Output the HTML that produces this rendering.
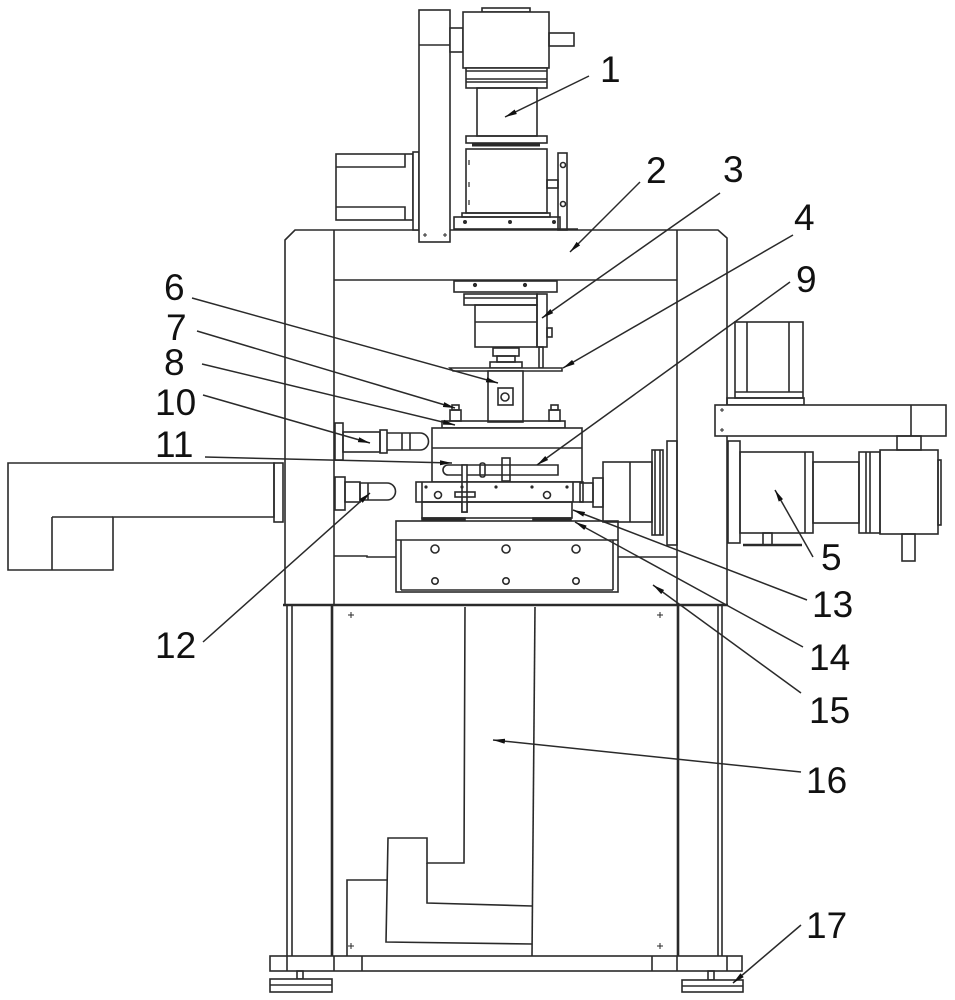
<!DOCTYPE html>
<html><head><meta charset="utf-8"><style>
html,body{margin:0;padding:0;background:#fff;}
svg{display:block;}
text{font-family:"Liberation Sans",sans-serif;font-size:37px;fill:#111;}
</style></head><body>
<svg width="955" height="1000" viewBox="0 0 955 1000" xmlns="http://www.w3.org/2000/svg">
<defs>
<marker id="ar" markerWidth="13" markerHeight="6" refX="12" refY="3" orient="auto" markerUnits="userSpaceOnUse">
<path d="M0,0.5 L12,3 L0,5.5 z" fill="#111"/>
</marker>
</defs>
<g fill="none" stroke="#2a2a2a" stroke-width="1.6">
<!-- Base and feet -->
<rect x="270" y="956" width="472" height="15" fill="#fff"/>
<path d="M287,956V971M334,956V971M362,956V971M652,956V971M677,956V971M727,956V971"/>
<rect x="297" y="971" width="6" height="8"/>
<rect x="270" y="979" width="62" height="13" fill="#fff"/>
<path d="M270,985H332"/>
<rect x="708" y="971" width="6" height="9"/>
<rect x="682" y="980" width="61" height="12" fill="#fff"/>
<path d="M682,986H743"/>
<!-- Legs -->
<path d="M287,605V956M292,605V956M718,605V956M722,605V956"/>
<path d="M332,605V956M678,605V956" stroke-width="2.6"/>
<!-- Cabinet panel 16 -->
<path d="M465,607L464,863H427V838H388L386,942L532,944"/>
<path d="M427,863V903L532,906"/>
<path d="M535,607L532,956"/>
<path d="M347,956V880H387"/>
<g stroke-width="1">
<path d="M348,615h6M351,612v6M657,615h6M660,612v6M348,946h6M351,943v6M657,946h6M660,943v6"/>
</g>
<!-- Upper frame -->
<path d="M285,605V240L295,230H718L727,238V605"/>
<path d="M334,230V605M677,230V605"/>
<path d="M334,280H677"/>
<path d="M283,605H728" stroke-width="2.6"/>
<path d="M334,556H367V557H396M618,557H677"/>
<!-- Top assembly -->
<rect x="336" y="154" width="77" height="66" fill="#fff"/>
<path d="M336,167H405V154M336,207H405V220"/>
<rect x="413" y="152" width="6" height="78" fill="#fff"/>
<rect x="419" y="10" width="31" height="232" fill="#fff"/>
<path d="M419,45H450"/>
<rect x="450" y="28" width="13" height="24" fill="#fff"/>
<rect x="482" y="8" width="48" height="4"/>
<rect x="463" y="12" width="86" height="56" fill="#fff"/>
<rect x="549" y="33" width="25" height="13"/>
<rect x="466" y="68" width="81" height="20" fill="#fff"/>
<path d="M466,71H547M466,79H547M466,82H547"/>
<rect x="477" y="88" width="60" height="48"/>
<rect x="466" y="136" width="81" height="7"/>
<path d="M472,145H540" stroke-width="3"/>
<rect x="466" y="149" width="81" height="64"/>
<path d="M469,160v5M469,182v5M469,200v5" stroke-width="1.2"/>
<rect x="462" y="213" width="88" height="4"/>
<rect x="454" y="217" width="106" height="12"/>
<path d="M560,229H578"/>
<rect x="558" y="153" width="9" height="77"/>
<circle cx="563" cy="165" r="2.5"/><circle cx="563" cy="204" r="2.5"/>
<rect x="547" y="180" width="11" height="8"/>
<g stroke-width="1"><path d="M423,235h4M425,233v4M443,235h4M445,233v4"/></g>
<circle cx="465" cy="222" r="1.2" fill="#2a2a2a"/><circle cx="510" cy="222" r="1.2" fill="#2a2a2a"/><circle cx="554" cy="222" r="1.2" fill="#2a2a2a"/>
<!-- Head under beam (3) -->
<rect x="454" y="281" width="103" height="11"/>
<circle cx="475" cy="285" r="1.3" fill="#2a2a2a"/><circle cx="525" cy="285" r="1.3" fill="#2a2a2a"/>
<rect x="464" y="294" width="73" height="11"/>
<path d="M464,298H537"/>
<rect x="475" y="305" width="62" height="42"/>
<path d="M475,322H537"/>
<rect x="537" y="294" width="10" height="53"/>
<rect x="547" y="328" width="5" height="9"/>
<rect x="539" y="347" width="4" height="21"/>
<rect x="493" y="348" width="26" height="8"/>
<rect x="497" y="356" width="18" height="6"/>
<rect x="490" y="362" width="32" height="6"/>
<path d="M450,368H562V371H453z" fill="#fff"/>
<rect x="488" y="371" width="35" height="51" fill="#fff"/>
<rect x="498" y="388" width="15" height="17"/>
<circle cx="505" cy="397" r="4"/>
<!-- Block 7/8 -->
<rect x="452" y="405" width="7" height="5"/><rect x="450" y="410" width="11" height="11"/>
<rect x="551" y="405" width="7" height="5"/><rect x="549" y="410" width="11" height="11"/>
<rect x="442" y="421" width="123" height="7"/>
<rect x="432" y="428" width="150" height="54" fill="#fff"/>
<path d="M432,448H582"/>
<path d="M448,465H558V475H448A5,5 0 0 1 448,465z"/>
<rect x="480" y="463" width="5" height="14" rx="2"/>
<rect x="502" y="458" width="8" height="23"/>
<rect x="462" y="465" width="5" height="47" fill="#fff"/>
<!-- Rail -->
<rect x="416" y="482" width="167" height="20" fill="#fff"/>
<path d="M422,482V502M573,482V502"/>
<rect x="462" y="482" width="5" height="30" fill="#fff"/>
<g fill="#2a2a2a" stroke="none">
<circle cx="426" cy="487" r="1.6"/><circle cx="462" cy="487" r="1.6"/><circle cx="496" cy="487" r="1.6"/><circle cx="532" cy="487" r="1.6"/><circle cx="567" cy="487" r="1.6"/>
</g>
<circle cx="438" cy="495" r="3.5"/><circle cx="547" cy="495" r="3.5"/>
<rect x="455" y="492" width="20" height="5"/>
<rect x="422" y="502" width="150" height="16"/>
<rect x="422" y="518" width="43" height="4" fill="#2a2a2a"/>
<rect x="533" y="518" width="38" height="4" fill="#2a2a2a"/>
<!-- Table base 15 -->
<rect x="396" y="521" width="222" height="71" fill="#fff"/>
<path d="M396,540H618M401,540V590M613,540V590M401,590H613"/>
<circle cx="435" cy="549" r="4"/><circle cx="506" cy="549" r="4"/><circle cx="576" cy="549" r="4"/>
<circle cx="435" cy="581" r="3.2"/><circle cx="506" cy="581" r="3.2"/><circle cx="576" cy="581" r="3.2"/>
<!-- Left components 10, 12 -->
<rect x="335" y="423" width="8" height="37"/>
<rect x="343" y="432" width="37" height="20"/>
<rect x="380" y="430" width="7" height="23"/>
<path d="M387,433H420A8.5,8.5 0 0 1 420,450H387"/>
<path d="M402,433V450M410,433V450"/>
<rect x="335" y="477" width="10" height="33"/>
<rect x="345" y="482" width="15" height="20"/>
<path d="M360,483H387A8.5,8.5 0 0 1 387,500H360z"/>
<path d="M368,483V500"/>
<!-- Right components near table -->
<rect x="580" y="483" width="13" height="19"/>
<rect x="593" y="478" width="10" height="29"/>
<rect x="603" y="462" width="49" height="60"/>
<path d="M630,462V522"/>
<rect x="652" y="450" width="11" height="85"/>
<path d="M655,450V535M660,450V535"/>
<rect x="667" y="441" width="10" height="104"/>
<!-- Right assembly 5 -->
<rect x="735" y="322" width="68" height="76" fill="#fff"/>
<path d="M747,322V392M789,322V392M735,392H803"/>
<rect x="727" y="398" width="77" height="7"/>
<rect x="715" y="405" width="231" height="31" fill="#fff"/>
<path d="M911,405V436"/>
<g stroke-width="1"><path d="M720,410h4M722,408v4M720,430h4M722,428v4"/></g>
<rect x="897" y="436" width="24" height="14"/>
<rect x="728" y="441" width="12" height="102" fill="#fff"/>
<rect x="740" y="452" width="73" height="81"/>
<path d="M805,452V533"/>
<rect x="813" y="462" width="46" height="61"/>
<rect x="859" y="452" width="21" height="81"/>
<path d="M866,452V533M870,452V533"/>
<rect x="880" y="450" width="58" height="84"/>
<rect x="938" y="460" width="3" height="65"/>
<rect x="902" y="534" width="13" height="27"/>
<rect x="763" y="533" width="9" height="12"/>
<path d="M743,545H802" stroke-width="2.5"/>
<!-- Left arm -->
<path d="M8,463H274V517H113V570H8z" fill="#fff"/>
<path d="M52,517H113M52,517V570"/>
<rect x="274" y="463" width="9" height="59"/>
</g>
<!-- Leaders -->
<g stroke="#2a2a2a" stroke-width="1.5" fill="none" marker-end="url(#ar)">
<line x1="589" y1="76" x2="505" y2="117"/>
<line x1="640" y1="182" x2="570" y2="252"/>
<line x1="720" y1="193" x2="542" y2="318"/>
<line x1="793" y1="235" x2="563" y2="368"/>
<line x1="790" y1="282" x2="537" y2="465"/>
<line x1="192" y1="298" x2="498" y2="383"/>
<line x1="197" y1="331" x2="455" y2="408"/>
<line x1="202" y1="364" x2="455" y2="425"/>
<line x1="203" y1="395" x2="370" y2="443"/>
<line x1="205" y1="457" x2="452" y2="463"/>
<line x1="203" y1="642" x2="370" y2="493"/>
<line x1="813" y1="557" x2="775" y2="490"/>
<line x1="807" y1="600" x2="573" y2="510"/>
<line x1="803" y1="647" x2="575" y2="522"/>
<line x1="801" y1="693" x2="653" y2="585"/>
<line x1="801" y1="772" x2="493" y2="740"/>
<line x1="801" y1="925" x2="733" y2="983"/>
</g>
<!-- Labels -->
<text x="600" y="82">1</text>
<text x="646" y="183">2</text>
<text x="723" y="182">3</text>
<text x="794" y="230">4</text>
<text x="796" y="292">9</text>
<text x="164" y="300">6</text>
<text x="166" y="340">7</text>
<text x="164" y="375">8</text>
<text x="155" y="415">10</text>
<text x="155" y="457">11</text>
<text x="155" y="658">12</text>
<text x="821" y="570">5</text>
<text x="812" y="617">13</text>
<text x="809" y="670">14</text>
<text x="809" y="723">15</text>
<text x="806" y="793">16</text>
<text x="806" y="938">17</text>
</svg>
</body></html>
